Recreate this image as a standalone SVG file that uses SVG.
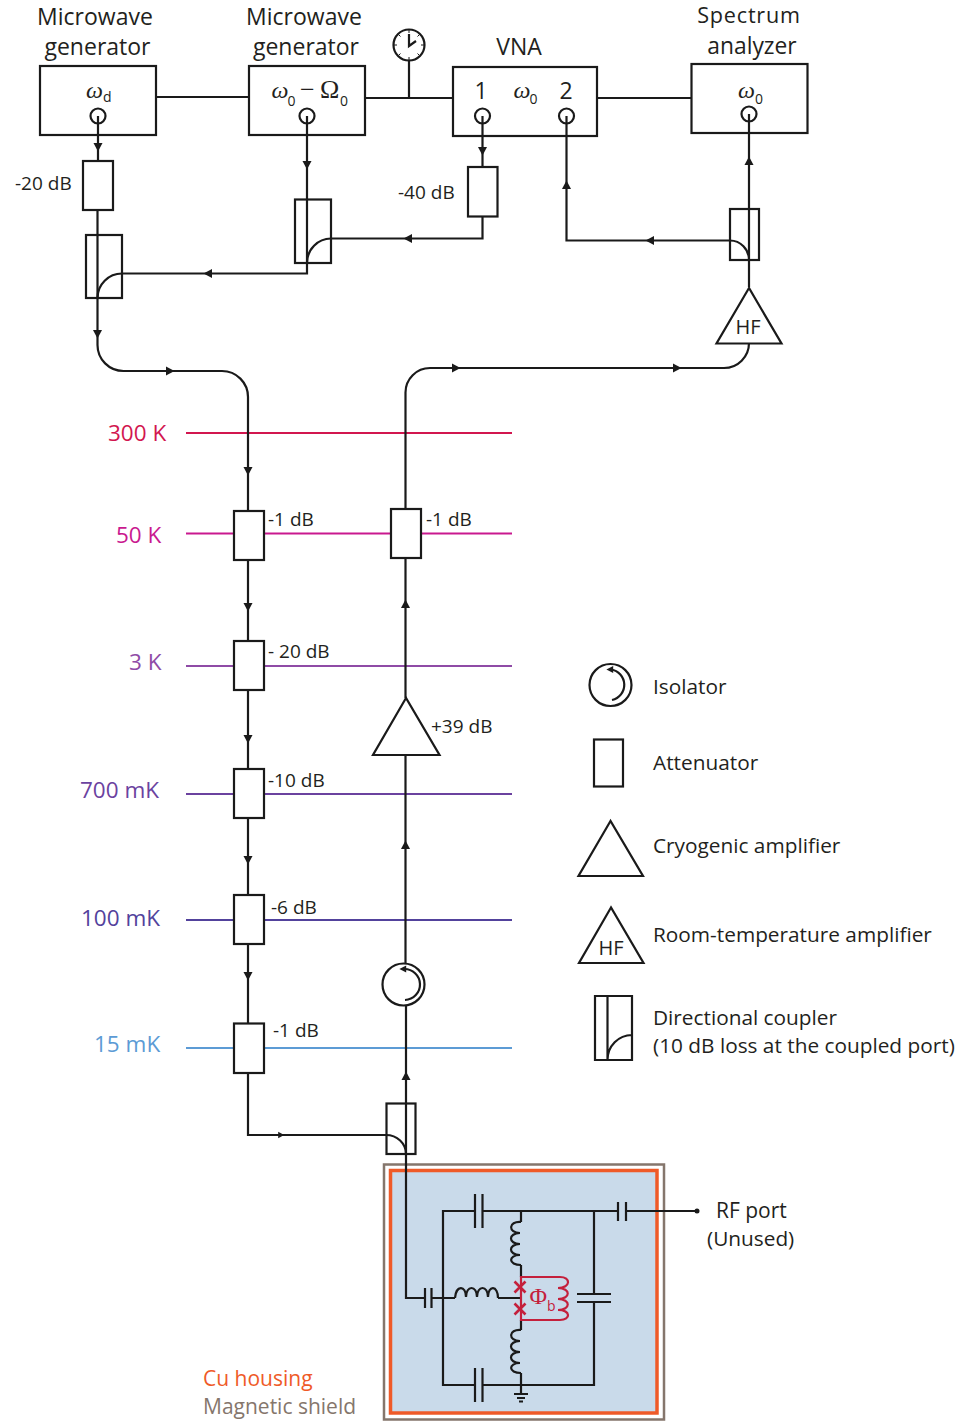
<svg xmlns="http://www.w3.org/2000/svg" width="962" height="1422" viewBox="0 0 962 1422">
<style>
text{font-family:"Open Sans","Noto Sans",sans-serif;font-size:23px;fill:#231f20}
.c{text-anchor:middle}
.s{font-size:19px}
.l{font-size:20.800px}
.m{font-size:22.500px}
.h{font-size:20px}
.g{font-family:"Liberation Serif",serif;font-style:italic;font-size:24px}
.o{font-family:"Liberation Serif",serif;font-size:26px}
.u{font-size:14px}
.k{fill:none;stroke:#1a1a1a;stroke-width:2.200}
.b{fill:#fff;stroke:#1a1a1a;stroke-width:2.200}
.n{fill:none;stroke:#1a1a1a;stroke-width:2.200}
.t{stroke-width:2.200;fill:none}
.r{fill:none;stroke:#c4203c;stroke-width:2.200}
</style>
<defs>
<path id="ah" d="M-4-4.500L4.500 0L-4 4.500Z" fill="#1a1a1a"/>
</defs>
<rect width="962" height="1422" fill="#fff"/>
<g id="temperature-lines">
<path class="t" stroke="#d2164f" d="M186 433H512"/>
<path class="t" stroke="#c9198f" d="M186 533.500H512"/>
<path class="t" stroke="#8f4ba6" d="M186 666H512"/>
<path class="t" stroke="#6b429f" d="M186 794H512"/>
<path class="t" stroke="#52429c" d="M186 920H512"/>
<path class="t" stroke="#5c9bd5" d="M186 1048H512"/>
<text class="m" x="108" y="441" style="fill:#d2164f">300 K</text>
<text class="m" x="116" y="543" style="fill:#c9198f">50 K</text>
<text class="m" x="129" y="670" style="fill:#8f4ba6">3 K</text>
<text class="m" x="80" y="798" style="fill:#6b429f">700 mK</text>
<text class="m" x="81" y="926" style="fill:#52429c">100 mK</text>
<text class="m" x="94" y="1052" style="fill:#5c9bd5">15 mK</text>
</g>
<g id="housing">
<rect x="384" y="1164.500" width="280" height="255" fill="#fff" stroke="#85766c" stroke-width="2.500"/>
<rect x="390.500" y="1170.500" width="266.500" height="242.500" fill="#c9daea" stroke="#ef5a28" stroke-width="3.500"/>
<text class="l" x="203" y="1386" style="fill:#ef5a28;font-size:21px">Cu housing</text>
<text class="l" x="203" y="1414" style="fill:#85766c;font-size:21px">Magnetic shield</text>
</g>
<g id="connectors">
<path class="k" d="M156 97H249M365 98H453M409 60V98M597 98H691.500"/>
<path class="k" d="M98 116V161M97.500 210V345A26 26 0 0 0 123.500 371H222A26 26 0 0 1 248 397V1135H386A20 19 0 0 1 406 1154"/>
<path class="k" d="M307 116V273.500H122A24.500 24.500 0 0 0 97.500 298"/>
<path class="k" d="M482.500 116V167M482.500 216V238.500H331A24 24.500 0 0 0 307 263"/>
<path class="k" d="M566.500 116V240.500H730A19 19.500 0 0 1 749 260M749 114V287"/>
<path class="k" d="M749 343A25 25 0 0 1 724 368H430A24.500 24.500 0 0 0 405.500 392.500V698M405.500 755V963M406 1005V1298H425"/>
<use href="#ah" transform="translate(98 147) rotate(90)"/>
<use href="#ah" transform="translate(97.500 334) rotate(90)"/>
<use href="#ah" transform="translate(170 371)"/>
<use href="#ah" transform="translate(307 165) rotate(90)"/>
<use href="#ah" transform="translate(208 273.500) rotate(180)"/>
<use href="#ah" transform="translate(408 238.500) rotate(180)"/>
<use href="#ah" transform="translate(482.500 151) rotate(90)"/>
<use href="#ah" transform="translate(566.500 185) rotate(-90)"/>
<use href="#ah" transform="translate(650 240.500) rotate(180)"/>
<use href="#ah" transform="translate(749 161) rotate(-90)"/>
<use href="#ah" transform="translate(456 368)"/>
<use href="#ah" transform="translate(677 368)"/>
<use href="#ah" transform="translate(248 471) rotate(90)"/>
<use href="#ah" transform="translate(248 607) rotate(90)"/>
<use href="#ah" transform="translate(248 739) rotate(90)"/>
<use href="#ah" transform="translate(248 860) rotate(90)"/>
<use href="#ah" transform="translate(248 976) rotate(90)"/>
<use href="#ah" transform="translate(405.500 604) rotate(-90)"/>
<use href="#ah" transform="translate(405.500 845) rotate(-90)"/>
<use href="#ah" transform="translate(406 1076) rotate(-90)"/>
<use href="#ah" transform="translate(281 1135) scale(.7)"/>
</g>
<g id="mw-gen-1">
<rect class="n" x="40" y="66" width="116" height="69"/>
<circle class="n" cx="98" cy="116" r="7.500"/>
<text class="c" x="95" y="25">Microwave</text><text class="c" x="97.500" y="55">generator</text>
<text class="g" x="86" y="98">ω</text><text class="u" x="103" y="102">d</text>
</g>
<g id="mw-gen-2">
<rect class="n" x="249" y="66" width="116" height="69"/>
<circle class="n" cx="307" cy="116" r="7.500"/>
<text class="c" x="304" y="25">Microwave</text><text class="c" x="306" y="55">generator</text>
<text class="g" x="271.500" y="98">ω</text><text class="u" x="287.500" y="106">0</text>
<text class="o" x="300" y="98">−</text><text class="o" x="320" y="98">Ω</text><text class="u" x="340" y="106">0</text>
</g>
<g id="clock">
<circle class="n" cx="409" cy="45" r="15.500"/>
<path class="n" d="M409 34V46L416 41"/>
<path class="n" style="stroke-width:1" d="M409 30V33M409 57V60M394 45H397M421 45H424M398.500 34.500L400.500 36.500M419.500 34.500L417.500 36.500M398.500 55.500L400.500 53.500M419.500 55.500L417.500 53.500"/>
</g>
<g id="vna">
<rect class="n" x="453" y="67" width="144" height="69"/>
<circle class="n" cx="482.500" cy="116" r="7.500"/>
<circle class="n" cx="566.500" cy="116" r="7.500"/>
<text class="c" x="519" y="55">VNA</text>
<text class="c" x="481" y="99">1</text><text class="c" x="566" y="99">2</text>
<text class="g" x="513.500" y="98">ω</text><text class="u" x="529.500" y="104">0</text>
</g>
<g id="spectrum-analyzer">
<rect class="n" x="691.500" y="64" width="116" height="69"/>
<circle class="n" cx="749" cy="114" r="7.500"/>
<text class="c" x="749" y="23.200" style="font-size:21.600px;letter-spacing:.8px">Spectrum</text><text class="c" x="752" y="54" style="font-size:22.800px">analyzer</text>
<text class="g" x="738" y="98">ω</text><text class="u" x="755" y="104">0</text>
</g>
<g id="att-20"><rect class="b" x="83" y="161" width="30" height="49"/><text class="s" x="15" y="190">-20 dB</text></g>
<g id="coupler-1"><rect class="n" x="86" y="235" width="36" height="63"/></g>
<g id="coupler-2"><rect class="n" x="295" y="199.500" width="36" height="63.500"/></g>
<g id="att-40"><rect class="b" x="468" y="167" width="29.500" height="49.500"/><text class="s" x="398" y="199">-40 dB</text></g>
<g id="coupler-3"><rect class="n" x="730" y="209" width="29" height="51"/></g>
<g id="hf-amp"><path class="b" d="M749 288L716.500 343.500H781.500Z"/><text class="c h" x="748" y="334">HF</text></g>
<g id="att-50k-l"><rect class="b" x="234" y="511" width="30" height="49"/><text class="s" x="268" y="526">-1 dB</text></g>
<g id="att-50k-r"><rect class="b" x="391" y="509" width="30" height="49"/><text class="s" x="426" y="526">-1 dB</text></g>
<g id="att-3k"><rect class="b" x="234" y="641" width="30" height="49"/><text class="s" x="268" y="658">- 20 dB</text></g>
<g id="att-700"><rect class="b" x="234" y="769" width="30" height="49"/><text class="s" x="268" y="787">-10 dB</text></g>
<g id="att-100"><rect class="b" x="234" y="895" width="30" height="49"/><text class="s" x="271" y="914">-6 dB</text></g>
<g id="att-15"><rect class="b" x="234" y="1023.500" width="30" height="49.500"/><text class="s" x="273" y="1037">-1 dB</text></g>
<g id="cryo-amp"><path class="b" d="M406 698L373 755H439.500Z"/><text class="s" x="431" y="733">+39 dB</text></g>
<g id="isolator"><circle class="b" cx="403.500" cy="984.500" r="21"/>
<path class="n" d="M404 969A15.500 15.500 0 0 1 405 1000"/><use href="#ah" transform="translate(403 969) rotate(180) scale(.8)"/></g>
<g id="coupler-4"><rect class="n" x="386.500" y="1103.500" width="29" height="50.500"/></g>
<g id="circuit">
<path class="k" d="M431 1298H455M498 1298H521M425 1288V1308M431.500 1288V1308"/>
<path class="k" d="M475 1211H443V1385H475M482 1211H618M626 1211H697M475 1194V1228M482.500 1194V1228M618 1202V1221M626 1202V1221"/>
<path class="k" d="M482 1385H594V1302M594 1293V1211M577 1294H611M577 1302H611M475 1368V1402M482.500 1368V1402"/>
<circle cx="697" cy="1211" r="2.500" fill="#1a1a1a"/>
<path class="k" d="M521 1211V1222M521 1265V1277M521 1320V1330M521 1373V1393M514 1394H528M517 1398H525M519 1401.500H523"/>
<path class="k" d="M521 1222C508 1221 508 1233 520 1233C508 1233 508 1244 520 1244C508 1244 508 1255 520 1255C508 1255 508 1265 521 1265"/>
<path class="k" d="M521 1330C508 1329 508 1341 520 1341C508 1341 508 1352 520 1352C508 1352 508 1363 520 1363C508 1363 508 1373 521 1373"/>
<path class="k" d="M455 1298C456 1285 466 1285 466 1297C466 1285 477 1285 477 1297C477 1285 488 1285 488 1297C488 1285 498 1285 498 1298"/>
<path class="r" d="M521 1277H560C571 1277 571 1288 558 1288C571 1288 571 1299 558 1299C571 1299 571 1310 558 1310C571 1310 571 1320 560 1320H521Z"/>
<path class="r" d="M514.500 1281.500L525.500 1292.500M525.500 1281.500L514.500 1292.500M514.500 1303.500L525.500 1314.500M525.500 1303.500L514.500 1314.500" style="stroke-width:2.600"/>
<text x="529.500" y="1304" class="g" style="font-style:normal;fill:#c4203c">Φ</text>
<text x="547" y="1311" class="u" style="fill:#c4203c">b</text>
<text class="l" x="716" y="1217.500" style="font-size:21px">RF port</text>
<text class="l" x="707" y="1245.500">(Unused)</text>
</g>
<g id="legend">
<circle class="n" cx="610.500" cy="685" r="21"/>
<path class="n" d="M611 669.500A15.500 15.500 0 0 1 612 700"/><use href="#ah" transform="translate(610 669.500) rotate(180) scale(.8)"/>
<text class="l" x="653" y="693.500">Isolator</text>
<rect class="n" x="594" y="739.500" width="29" height="47"/>
<text class="l" x="653" y="769.500">Attenuator</text>
<path class="n" d="M610.500 821L578.500 876H643Z"/>
<text class="l" x="653" y="852.500">Cryogenic amplifier</text>
<path class="n" d="M611 907.500L579 963H643.500Z"/>
<text class="c h" x="611" y="955">HF</text>
<text class="l" x="653" y="941.500">Room-temperature amplifier</text>
<path class="n" d="M595 996H632V1060H595ZM607.500 996V1060A24.500 25 0 0 1 632 1035"/>
<text class="l" x="653" y="1024.500">Directional coupler</text>
<text class="l" x="653" y="1052.500">(10 dB loss at the coupled port)</text>
</g>
</svg>
